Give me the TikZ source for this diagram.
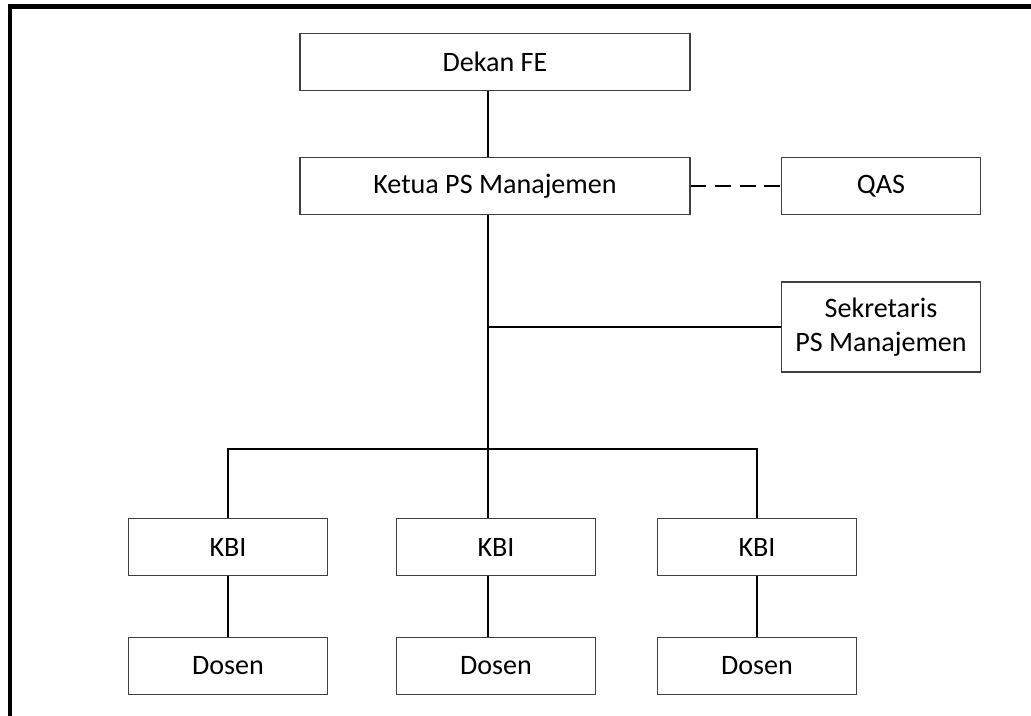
\documentclass[tikz,border=0pt]{standalone}
\usepackage{fontspec}
\setmainfont{Carlito}
\usepackage{tikz}
\usetikzlibrary{positioning}

\tikzset{
	unit/.style={draw=black!75,line width=0.8pt,fill=white,minimum width=3.98cm,minimum height=1.14cm,inner sep=0pt,align=center,font=\fontsize{16}{19.5}\selectfont},
	wideunit/.style={unit,minimum width=7.8cm},
	link/.style={line width=1.4pt,black},
}

\begin{document}
\begin{tikzpicture}[x=0.02cm,y=-0.02cm]
	\useasboundingbox (0,0) rectangle (1031,716);
	% frame
	\draw[line width=2.5pt] (10,716) -- (10,6.5) -- (1031,6.5);
	% boxes
	\node[wideunit] (dekan) at (495,62) {Dekan FE};
	\node[wideunit] (ketua) at (495,186) {Ketua PS Manajemen};
	\node[unit] (qas) at (881,186) {QAS};
	\node[unit,minimum height=1.8cm] (sekretaris) at (881,327) {Sekretaris\\PS Manajemen};
	\node[unit] (kbiA) at (228,547) {KBI};
	\node[unit] (kbiB) at (496,547) {KBI};
	\node[unit] (kbiC) at (757,547) {KBI};
	\node[unit] (dosenA) at (228,666) {Dosen};
	\node[unit] (dosenB) at (496,666) {Dosen};
	\node[unit] (dosenC) at (757,666) {Dosen};
	\coordinate (spine) at (488,449);
	% lines
	\draw[link] (dekan.south -| spine) -- (ketua.north -| spine);
	\draw[link] (ketua.south -| spine) -- (spine);
	\draw[link,dash pattern=on 9pt off 5pt] (ketua.east) -- (qas.west);
	\draw[link] (spine |- sekretaris.west) -- (sekretaris.west);
	\draw[link] (kbiA.north) |- (spine) -| (kbiC.north);
	\draw[link] (spine) -- (kbiB.north -| spine);
	\draw[link] (kbiA.south) -- (dosenA.north);
	\draw[link] (kbiB.south -| spine) -- (dosenB.north -| spine);
	\draw[link] (kbiC.south) -- (dosenC.north);
\end{tikzpicture}
\end{document}
